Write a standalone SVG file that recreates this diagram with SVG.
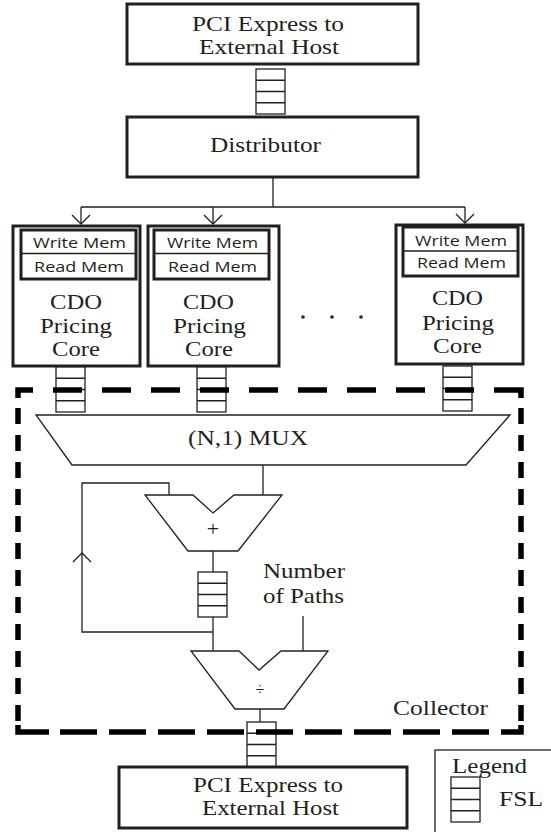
<svg xmlns="http://www.w3.org/2000/svg" width="551" height="832" viewBox="0 0 551 832">
<style>
.box{fill:#fff;stroke:#231f20;stroke-width:3}
.thin{fill:none;stroke:#231f20;stroke-width:1.3}
.fsl{fill:#fff;stroke:#231f20;stroke-width:1.3}
.shape{fill:#fff;stroke:#231f20;stroke-width:1.3;stroke-linejoin:miter}
.serif{font-family:"Liberation Serif","Times New Roman",serif;font-size:22px;fill:#231f20}
.sans{font-family:"Open Sans","Liberation Sans",Arial,sans-serif;font-size:15px;fill:#231f20}
.dash{fill:none;stroke:#000;stroke-width:5.5}
</style>
<defs>
<g id="fslshape">
<rect class="fsl" x="0" y="0" width="29" height="45"/>
<path class="thin" d="M0,11.25H29M0,22.5H29M0,33.75H29"/>
</g>
</defs>

<g id="connectors">
<path class="thin" d="M273,177V207M81,207H465M81,207V224M213,207V224M465,207V223"/>
<path class="thin" d="M72,215L81,224L90,215M204,215L213,224L222,215M456,214L465,223L474,214"/>
<path class="thin" d="M263,465V495"/>
<path class="thin" d="M169,495V483H82V632H213"/>
<path class="thin" d="M73,562L82,553L91,562"/>
<path class="thin" d="M213,551V651"/>
<path class="thin" d="M303,616V651"/>
<path class="thin" d="M260,709V722"/>
</g>

<g id="pcie-top">
<rect class="box" x="127" y="4" width="291" height="60"/>
<text class="serif" x="192" y="31" textLength="152" lengthAdjust="spacingAndGlyphs">PCI Express to</text>
<text class="serif" x="199" y="54" textLength="140" lengthAdjust="spacingAndGlyphs">External Host</text>
</g>
<g id="fsl-top"><use href="#fslshape" x="256" y="69"/></g>

<g id="distributor">
<rect class="box" x="127" y="117" width="291" height="60"/>
<text class="serif" x="210" y="152" textLength="111" lengthAdjust="spacingAndGlyphs">Distributor</text>
</g>

<g id="core1">
<rect class="box" x="13" y="226" width="127" height="140"/>
<rect class="box" x="21" y="230" width="115" height="49"/>
<path class="thin" d="M21,253.5H136"/>
<text class="sans" x="33" y="248" textLength="93" lengthAdjust="spacingAndGlyphs">Write Mem</text>
<text class="sans" x="34" y="272" textLength="90" lengthAdjust="spacingAndGlyphs">Read Mem</text>
<text class="serif" x="50" y="309" textLength="52" lengthAdjust="spacingAndGlyphs">CDO</text>
<text class="serif" x="40" y="333" textLength="72" lengthAdjust="spacingAndGlyphs">Pricing</text>
<text class="serif" x="52" y="356" textLength="48" lengthAdjust="spacingAndGlyphs">Core</text>
</g>
<g id="core2">
<rect class="box" x="148" y="226" width="131" height="140"/>
<rect class="box" x="154" y="230" width="115" height="49"/>
<path class="thin" d="M154,253.5H269"/>
<text class="sans" x="167" y="248" textLength="91" lengthAdjust="spacingAndGlyphs">Write Mem</text>
<text class="sans" x="168" y="272" textLength="89" lengthAdjust="spacingAndGlyphs">Read Mem</text>
<text class="serif" x="183" y="309" textLength="51" lengthAdjust="spacingAndGlyphs">CDO</text>
<text class="serif" x="173" y="333" textLength="73" lengthAdjust="spacingAndGlyphs">Pricing</text>
<text class="serif" x="185" y="356" textLength="48" lengthAdjust="spacingAndGlyphs">Core</text>
</g>
<g id="ellipsis">
<circle cx="303" cy="317" r="1.8" fill="#231f20"/>
<circle cx="332" cy="317" r="1.8" fill="#231f20"/>
<circle cx="361" cy="317" r="1.8" fill="#231f20"/>
</g>
<g id="core3">
<rect class="box" x="396" y="225" width="127" height="139"/>
<rect class="box" x="403" y="227" width="115" height="49"/>
<path class="thin" d="M403,251H518"/>
<text class="sans" x="415" y="246" textLength="92" lengthAdjust="spacingAndGlyphs">Write Mem</text>
<text class="sans" x="417" y="268" textLength="89" lengthAdjust="spacingAndGlyphs">Read Mem</text>
<text class="serif" x="432" y="305" textLength="51" lengthAdjust="spacingAndGlyphs">CDO</text>
<text class="serif" x="422" y="330" textLength="72" lengthAdjust="spacingAndGlyphs">Pricing</text>
<text class="serif" x="433" y="353" textLength="49" lengthAdjust="spacingAndGlyphs">Core</text>
</g>

<g id="fsl-core1"><use href="#fslshape" x="56" y="367"/></g>
<g id="fsl-core2"><use href="#fslshape" x="197" y="367"/></g>
<g id="fsl-core3"><use href="#fslshape" x="443" y="366"/></g>

<g id="mux">
<polygon class="shape" points="36,415 510,415 466,465 72,465"/>
<text class="serif" x="188" y="445" textLength="120" lengthAdjust="spacingAndGlyphs">(N,1) MUX</text>
</g>

<g id="adder">
<polygon class="shape" points="145,495 193,495 213,513 234,495 282,495 238,551 188,551"/>
<text class="serif" x="213" y="536" text-anchor="middle" style="font-size:22px">+</text>
</g>

<g id="fsl-acc"><use href="#fslshape" x="198" y="572"/></g>

<g id="num-paths">
<text class="serif" x="263" y="578" textLength="82" lengthAdjust="spacingAndGlyphs">Number</text>
<text class="serif" x="263" y="603" textLength="81" lengthAdjust="spacingAndGlyphs">of Paths</text>
</g>

<g id="divider">
<polygon class="shape" points="191,651 239,651 259,670 281,651 328,651 284,709 235,709"/>
<text class="serif" x="260" y="695" text-anchor="middle" style="font-size:16px">÷</text>
</g>

<g id="fsl-out"><use href="#fslshape" x="247" y="722"/></g>

<g id="collector">
<path class="dash" d="M18,398V390H33"/>
<path class="dash" d="M53,390H480" stroke-dasharray="29 20"/>
<path class="dash" d="M494,390H521V398"/>
<path class="dash" d="M521,408V722" stroke-dasharray="16 11"/>
<path class="dash" d="M521,725V732H501"/>
<path class="dash" d="M60,732H490" stroke-dasharray="37 12"/>
<path class="dash" d="M49,732H18V725"/>
<path class="dash" d="M18,408V722" stroke-dasharray="16 11"/>
<text class="serif" x="393" y="715" textLength="95" lengthAdjust="spacingAndGlyphs">Collector</text>
</g>

<g id="pcie-bottom">
<rect class="box" x="119" y="767" width="288" height="61"/>
<text class="serif" x="193" y="792" textLength="150" lengthAdjust="spacingAndGlyphs">PCI Express to</text>
<text class="serif" x="202" y="815" textLength="137" lengthAdjust="spacingAndGlyphs">External Host</text>
</g>

<g id="legend">
<rect x="435" y="750" width="130" height="100" fill="#fff" stroke="#231f20" stroke-width="1.3"/>
<text class="serif" x="452" y="773" textLength="75" lengthAdjust="spacingAndGlyphs">Legend</text>
<use href="#fslshape" x="451" y="777"/>
<text class="serif" x="499" y="806" textLength="44" lengthAdjust="spacingAndGlyphs">FSL</text>
</g>
</svg>
